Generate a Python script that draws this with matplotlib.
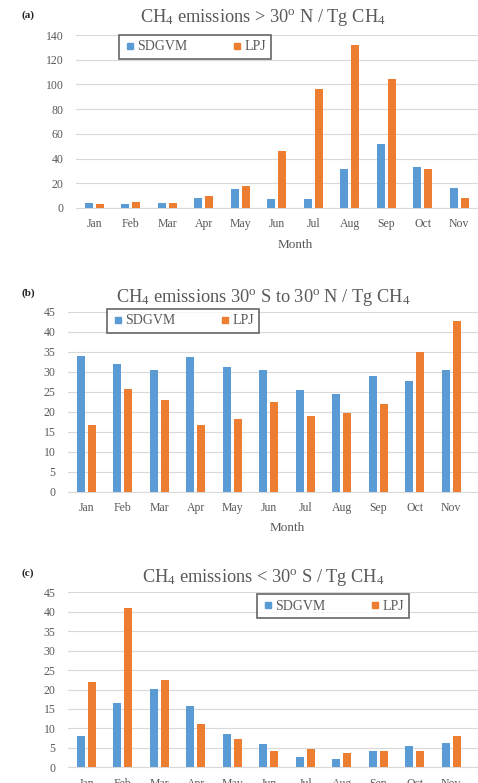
import numpy as np
import matplotlib
matplotlib.use("Agg")
import matplotlib.pyplot as plt
from matplotlib.lines import Line2D

# --- Data ---
months = ["Jan", "Feb", "Mar", "Apr", "May", "Jun", "Jul", "Aug", "Sep", "Oct", "Nov"]

north_sdgvm = [4, 3, 4, 8, 15.4, 7.3, 7.3, 31.4, 51.6, 33, 16]
north_lpj = [3.6, 4.5, 4.4, 9.5, 18, 46.5, 96, 132, 104, 31.6, 8]

tropic_sdgvm = [33.8, 32, 30.5, 33.6, 31.1, 30.4, 25.3, 24.4, 29, 27.7, 30.3]
tropic_lpj = [16.75, 25.7, 23, 16.7, 18.1, 22.3, 18.8, 19.75, 22, 34.8, 42.75]

south_sdgvm = [8.05, 16.45, 20.1, 15.7, 8.65, 5.9, 2.65, 2.2, 4.1, 5.5, 6.2]
south_lpj = [22, 41, 22.5, 11.05, 7.3, 4.1, 4.7, 3.6, 4.1, 4.3, 8.1]

# --- Style ---
BLUE = "#5B9BD5"
ORANGE = "#ED7D31"
GRID = "#d9d9d9"
TEXT = "#595959"
W, H = 478, 783

plt.rcParams["font.family"] = ["Liberation Serif", "DejaVu Serif"]
plt.rcParams["mathtext.fontset"] = "custom"
plt.rcParams["mathtext.rm"] = "Liberation Serif"
plt.rcParams["mathtext.it"] = "Liberation Serif:italic"

fig = plt.figure(figsize=(W / 100, H / 100), dpi=100)

# panel layout in pixels: left, top, bottom of plot area, legend centre, label y, title y
panels = [
    ("(a)", r"CH$_4$ emissions > 30$^\mathrm{o}$ N / Tg CH$_4$", 76, 35, 208, 140, 20,
     north_sdgvm, north_lpj, (195, 47), 15, 18, True),
    ("(b)", r"CH$_4$ emissions 30$^\mathrm{o}$ S to 30$^\mathrm{o}$ N / Tg CH$_4$", 68, 311.7, 491.7, 45, 5,
     tropic_sdgvm, tropic_lpj, (183, 321), 293, 298, True),
    ("(c)", r"CH$_4$ emissions < 30$^\mathrm{o}$ S / Tg CH$_4$", 68, 592.3, 767.3, 45, 5,
     south_sdgvm, south_lpj, (333, 606), 573, 577, False),
]

cat_w = 36.5  # pixels per month
x = np.arange(len(months))
bw = 0.22
off = 0.145

for lab, title, left, top, bottom, ymax, ystep, s_vals, l_vals, leg_c, lab_y, title_y, show_xl in panels:
    ax = fig.add_axes([left / W, 1 - bottom / H, cat_w * 12 / W, (bottom - top) / H])
    ax.bar(x - off, s_vals, bw, color=BLUE, zorder=3)
    ax.bar(x + off, l_vals, bw, color=ORANGE, zorder=3)
    ax.set_xlim(-0.5, 11.5)
    ax.set_ylim(0, ymax)
    ax.set_yticks(np.arange(0, ymax + 1, ystep))
    ax.set_xticks(x)
    ax.set_xticklabels(months)
    ax.tick_params(length=0, colors=TEXT, labelsize=8.5)
    ax.tick_params(axis="x", pad=7.5)
    ax.tick_params(axis="y", pad=9)
    ax.grid(axis="y", color=GRID, linewidth=0.8, zorder=0)
    for s in ["top", "right", "left"]:
        ax.spines[s].set_visible(False)
    ax.spines["bottom"].set_color(GRID)
    if show_xl:
        ax.set_xlabel("Month", color=TEXT, fontsize=9.5, labelpad=6)

    fig.text(263 / W, 1 - title_y / H, title, ha="center", va="center",
             color=TEXT, fontsize=13.2)
    fig.text(22 / W, 1 - lab_y / H, lab, ha="left", va="center",
             fontsize=8, fontweight="bold", color="#222222")

    handles = [Line2D([], [], marker="s", linestyle="none", color=BLUE, markersize=4.5),
               Line2D([], [], marker="s", linestyle="none", color=ORANGE, markersize=4.5)]
    leg = fig.legend(handles, ["SDGVM", "LPJ"], ncol=2, loc="center",
                     bbox_to_anchor=(leg_c[0] / W, 1 - leg_c[1] / H),
                     frameon=True, fancybox=False, fontsize=10, handletextpad=0.1,
                     columnspacing=3.2, borderpad=0.4, handlelength=0.8,
                     borderaxespad=0, labelcolor=TEXT)
    leg.get_frame().set_edgecolor("#404040")
    leg.get_frame().set_linewidth(1.2)

fig.savefig("out.png", dpi=100)
